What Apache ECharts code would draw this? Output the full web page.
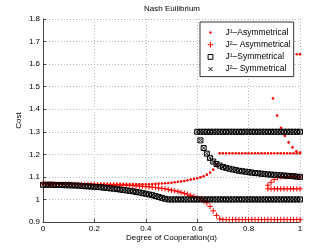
<!DOCTYPE html>
<html>
<head>
<meta charset="utf-8">
<script src="https://cdn.jsdelivr.net/npm/echarts@6/dist/echarts.min.js"></script>
<style>html,body{margin:0;padding:0;background:#fff}#c{width:332px;height:250px}</style>
</head>
<body>
<div id="c"></div>
<script>
// ---- data ----
const alpha = [0,0.0125,0.025,0.0375,0.05,0.0625,0.075,0.0875,0.1,0.1125,0.125,0.1375,0.15,0.1625,0.175,0.1875,0.2,0.2125,0.225,0.2375,0.25,0.2625,0.275,0.2875,0.3,0.3125,0.325,0.3375,0.35,0.3625,0.375,0.3875,0.4,0.4125,0.425,0.4375,0.45,0.4625,0.475,0.4875,0.5,0.5125,0.525,0.5375,0.55,0.5625,0.575,0.5875,0.6,0.6125,0.625,0.6375,0.65,0.6625,0.675,0.6875,0.7,0.7125,0.725,0.7375,0.75,0.7625,0.775,0.7875,0.8,0.8125,0.825,0.8375,0.85,0.8625,0.875,0.8875,0.9,0.9125,0.925,0.9375,0.95,0.9625,0.975,0.9875,1];

// Symmetrical equilibria (J1 = J2)
const symLower = [1.065,1.065,1.065,1.065,1.064,1.064,1.064,1.063,1.063,1.062,1.062,1.061,1.060,1.059,1.058,1.057,1.056,1.055,1.054,1.052,1.051,1.049,1.048,1.046,1.044,1.042,1.040,1.038,1.036,1.033,1.031,1.028,1.025,1.022,1.019,1.015,1.011,1.007,1.003,1.000,
  1.000,1.000,1.000,1.000,1.000,1.000,1.000,1.000,1.000,1.000,1.000,1.000,1.000,1.000,1.000,1.000,1.000,1.000,1.000,1.000,1.000,1.000,1.000,1.000,1.000,1.000,1.000,1.000,1.000,1.000,1.000,1.000,1.000,1.000,1.000,1.000,1.000,1.000,1.000,1.000,1.000];
const symUpperStart = 0.6;
const symUpper = [1.3,1.3,1.3,1.3,1.3,1.3,1.3,1.3,1.3,1.3,1.3,1.3,1.3,1.3,1.3,1.3,1.3,1.3,1.3,1.3,1.3,1.3,1.3,1.3,1.3,1.3,1.3,1.3,1.3,1.3,1.3,1.3,1.3];
const symMiddleStart = 0.6125;
const symMiddle = [1.262,1.228,1.203,1.183,1.168,1.157,1.150,1.144,1.140,1.136,1.133,1.130,1.127,1.125,1.123,1.121,1.119,1.117,1.116,1.114,1.113,1.111,1.110,1.109,1.108,1.107,1.106,1.105,1.104,1.103,1.101,1.100];

// Asymmetrical equilibria, player 1
const j1AsymMain = [1.068,1.068,1.068,1.068,1.068,1.068,1.068,1.068,1.068,1.067,1.067,1.067,1.067,1.067,1.067,1.067,1.067,1.067,1.067,1.067,1.067,1.067,1.067,1.067,1.067,1.067,1.067,1.067,1.067,1.067,1.067,1.067,1.067,1.067,1.068,1.069,1.070,1.071,1.072,1.073,1.074,1.076,1.078,1.080,1.082,1.085,1.088,1.091,1.094,1.098,1.103,1.110,1.119,1.132,1.152,1.205,
  1.205,1.205,1.205,1.205,1.205,1.205,1.205,1.205,1.205,1.205,1.205,1.205,1.205,1.205,1.205,1.205,1.205,1.205,1.205,1.205,1.205,1.205,1.205,1.205,1.205];
const j1AsymFallAlpha = [0.895,0.911,0.926,0.941,0.956,0.971,0.986,1.0];
const j1AsymFall = [1.448,1.372,1.318,1.282,1.253,1.231,1.214,1.208];
const j1AsymTopAlpha = [0.9875,1.0];
const j1AsymTop = [1.644,1.644];

// Asymmetrical equilibria, player 2
const j2AsymMain = [1.068,1.068,1.068,1.068,1.067,1.067,1.067,1.067,1.067,1.066,1.066,1.066,1.066,1.066,1.066,1.066,1.066,1.065,1.065,1.065,1.065,1.064,1.064,1.064,1.064,1.063,1.063,1.062,1.061,1.060,1.059,1.058,1.057,1.056,1.054,1.053,1.051,1.049,1.047,1.044,1.041,1.038,1.035,1.031,1.027,1.023,1.018,1.013,1.008,1.002,0.995,0.985,0.969,0.949,0.929,0.914,
  0.911,0.911,0.911,0.911,0.911,0.911,0.911,0.911,0.911,0.911,0.911,0.911,0.911,0.911,0.911,0.911,0.911,0.911,0.911,0.911,0.911,0.911,0.911,0.911,0.911];
const j2AsymRiseStart = 0.875;
const j2AsymRise = [1.063,1.076,1.088,1.097,1.101,1.102,1.102,1.102,1.102,1.101,1.100];
const j2AsymFlatStart = 0.875;
const j2AsymFlat = [1.047,1.047,1.047,1.047,1.047,1.047,1.047,1.047,1.047,1.047,1.047];

const xTicks = ['0','0.2','0.4','0.6','0.8','1'];
const yTicks = ['0.9','1','1.1','1.2','1.3','1.4','1.5','1.6','1.7','1.8'];
const legendNames = ['J¹–Asymmetrical','J²– Asymmetrical','J¹–Symmetrical','J²– Symmetrical'];

// ---- helpers ----
function pairs(xs, ys) { return ys.map((v, i) => [xs[i], v]); }
function fromStart(start, ys) { const k = alpha.indexOf(start); return pairs(alpha.slice(k), ys); }

const j1AsymData = pairs(alpha, j1AsymMain).concat(pairs(j1AsymFallAlpha, j1AsymFall), pairs(j1AsymTopAlpha, j1AsymTop));
const j2AsymData = pairs(alpha, j2AsymMain).concat(fromStart(j2AsymRiseStart, j2AsymRise), fromStart(j2AsymFlatStart, j2AsymFlat));
const symData = pairs(alpha, symLower).concat(fromStart(symUpperStart, symUpper), fromStart(symMiddleStart, symMiddle));

const FONT = 'Liberation Sans';
const PLUS = 'path://M5,0L5,10M0,5L10,5';
const CROSS = 'path://M0,0L10,10M0,10L10,0';

const chart = echarts.init(document.getElementById('c'), null, {renderer: 'canvas'});
chart.setOption({
  animation: false,
  backgroundColor: '#fff',
  textStyle: {fontFamily: FONT},
  title: {
    text: 'Nash Euilibrium', left: 172, top: 5, padding: 0, textAlign: 'center',
    textStyle: {fontSize: 8, fontWeight: 'normal', color: '#000', fontFamily: FONT}
  },
  grid: {left: 43, right: 32, top: 19, bottom: 28, containLabel: false, outerBoundsMode: 'none'},
  legend: {
    orient: 'vertical', left: 200, top: 22,
    padding: [6, 3, 3, 6], itemGap: 3.2, itemWidth: 20, itemHeight: 8,
    backgroundColor: '#fff', borderColor: '#333', borderWidth: 1, borderRadius: 0,
    itemStyle: {borderWidth: 1},
    textStyle: {fontSize: 8.5, color: '#000', fontFamily: FONT, padding: [0,0,0,0]},
    selectedMode: false,
    data: [
      {name: legendNames[0], icon: 'path://M0,0M10,10M3.5,5a1.5,1.5 0 1,0 3,0a1.5,1.5 0 1,0 -3,0z'},
      {name: legendNames[1], icon: 'path://M0,0M10,10M5,1.5L5,8.5M1.5,5L8.5,5'},
      {name: legendNames[2], icon: 'path://M0,0M10,10M2,2L8,2L8,8L2,8Z'},
      {name: legendNames[3], icon: 'path://M0,0M10,10M2.5,2.5L7.5,7.5M2.5,7.5L7.5,2.5'}
    ]
  },
  xAxis: {
    type: 'value', min: 0, max: 1, interval: 0.2,
    name: 'Degree of Cooperation(α)', nameLocation: 'middle', nameGap: 12, nameMoveOverlap: false,
    nameTextStyle: {fontSize: 8, color: '#000', fontFamily: FONT},
    axisLine: {show: true, onZero: false, lineStyle: {color: '#444', width: 1}},
    axisTick: {show: true, inside: true, length: 3, lineStyle: {color: '#444'}},
    axisLabel: {fontSize: 8, color: '#000', margin: 3, fontFamily: FONT,
      formatter: (v) => xTicks[Math.round(v / 0.2)]},
    splitLine: {show: true, lineStyle: {color: '#b5b5b5', width: 1, type: [1, 2]}}
  },
  yAxis: {
    type: 'value', min: 0.9, max: 1.8, interval: 0.1,
    name: 'Cost', nameLocation: 'middle', nameGap: 20, nameMoveOverlap: false,
    nameTextStyle: {fontSize: 8, color: '#000', fontFamily: FONT},
    axisLine: {show: true, onZero: false, lineStyle: {color: '#444', width: 1}},
    axisTick: {show: true, inside: true, length: 3, lineStyle: {color: '#444'}},
    axisLabel: {fontSize: 8, color: '#000', margin: 3, fontFamily: FONT,
      formatter: (v) => yTicks[Math.round((v - 0.9) / 0.1)]},
    splitLine: {show: true, lineStyle: {color: '#b5b5b5', width: 1, type: [1, 2]}}
  },
  series: [
    {name: legendNames[0], type: 'scatter', data: j1AsymData, symbol: 'circle', symbolSize: 2.6,
     itemStyle: {color: '#ff0000', opacity: 1}, emphasis: {disabled: true}, z: 2},
    {name: legendNames[1], type: 'scatter', data: j2AsymData, symbol: PLUS, symbolSize: 5.5,
     itemStyle: {color: 'rgba(0,0,0,0)', borderColor: '#ff0000', borderWidth: 1, opacity: 1}, emphasis: {disabled: true}, z: 2},
    {name: legendNames[2], type: 'scatter', data: symData, symbol: 'rect', symbolSize: 5,
     itemStyle: {color: 'rgba(0,0,0,0)', borderColor: '#000', borderWidth: 1, opacity: 1}, emphasis: {disabled: true}, z: 3},
    {name: legendNames[3], type: 'scatter', data: symData, symbol: CROSS, symbolSize: 4,
     itemStyle: {color: 'rgba(0,0,0,0)', borderColor: '#000', borderWidth: 0.9, opacity: 1}, emphasis: {disabled: true}, z: 3}
  ]
});
</script>
</body>
</html>
